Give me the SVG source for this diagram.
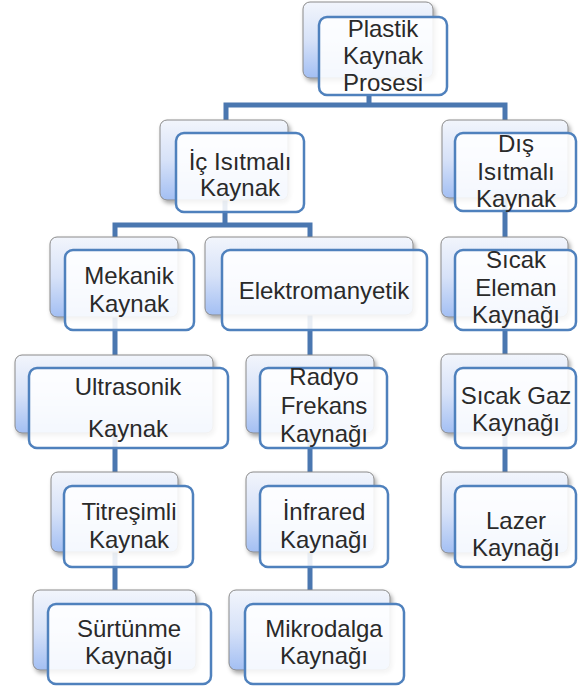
<svg xmlns="http://www.w3.org/2000/svg" width="578" height="691" viewBox="0 0 578 691">
<defs>
<linearGradient id="g" x1="0" y1="0" x2="0" y2="1">
<stop offset="0" stop-color="#f2f5fc"/>
<stop offset="0.5" stop-color="#d7e2f8"/>
<stop offset="1" stop-color="#a3bff3"/>
</linearGradient>
<filter id="sh" x="-10%" y="-10%" width="125%" height="130%">
<feDropShadow dx="2" dy="3" stdDeviation="2" flood-color="#000" flood-opacity="0.35"/>
</filter>
</defs>
<style>
.b{fill:url(#g);stroke:#8a8a8a;stroke-width:1;filter:url(#sh)}
.f{fill:#ffffff;fill-opacity:0.88;stroke:#4f81bd;stroke-width:2.5}
.t{font-family:"Liberation Sans",Arial,sans-serif;font-size:24px;fill:#2a2a2a;text-anchor:middle}
.c{fill:none;stroke:#4a77b0;stroke-width:5}
</style>
<rect width="578" height="691" fill="#ffffff"/>
<g id="connectors">
<path class="c" d="M369,95 V105 M226,120 V105 H505 V120"/>
<path class="c" d="M225,200 V225 M115,237 V225 H310 V237"/>
<path class="c" d="M115,317 V355 M115,433 V472 M115,552 V590"/>
<path class="c" d="M310,315 V355 M310,433 V472 M310,552 V590"/>
<path class="c" d="M505,198 V237 M505,317 V354 M505,433 V472"/>
</g>
<g id="n1"><rect class="b" x="303" y="2" width="130" height="76" rx="7"/><rect class="f" x="319" y="17" width="128" height="78" rx="8"/>
<text class="t" x="383" y="37">Plastik</text><text class="t" x="383" y="64">Kaynak</text><text class="t" x="383" y="91">Prosesi</text></g>
<g id="n2"><rect class="b" x="160" y="120" width="128" height="80" rx="7"/><rect class="f" x="176" y="133" width="128" height="79" rx="8"/>
<text class="t" x="240" y="170">İç Isıtmalı</text><text class="t" x="240" y="196">Kaynak</text></g>
<g id="n3"><rect class="b" x="442" y="120" width="126" height="78" rx="7"/><rect class="f" x="455" y="133" width="121" height="78" rx="8"/>
<text class="t" x="516" y="152">Dış</text><text class="t" x="516" y="180">Isıtmalı</text><text class="t" x="516" y="207">Kaynak</text></g>
<g id="n4"><rect class="b" x="50" y="237" width="128" height="80" rx="7"/><rect class="f" x="65" y="250" width="129" height="80" rx="8"/>
<text class="t" x="129" y="284">Mekanik</text><text class="t" x="129" y="312">Kaynak</text></g>
<g id="n5"><rect class="b" x="205" y="237" width="208" height="78" rx="7"/><rect class="f" x="222" y="250" width="205" height="80" rx="8"/>
<text class="t" x="324" y="299">Elektromanyetik</text></g>
<g id="n6"><rect class="b" x="441" y="237" width="127" height="80" rx="7"/><rect class="f" x="455" y="250" width="121" height="80" rx="8"/>
<text class="t" x="516" y="268">Sıcak</text><text class="t" x="516" y="296">Eleman</text><text class="t" x="516" y="323">Kaynağı</text></g>
<g id="n7"><rect class="b" x="15" y="355" width="198" height="78" rx="7"/><rect class="f" x="29" y="368" width="199" height="80" rx="8"/>
<text class="t" x="128" y="395">Ultrasonik</text><text class="t" x="128" y="437">Kaynak</text></g>
<g id="n8"><rect class="b" x="246" y="355" width="128" height="78" rx="7"/><rect class="f" x="260" y="368" width="127" height="80" rx="8"/>
<text class="t" x="324" y="385">Radyo</text><text class="t" x="324" y="414">Frekans</text><text class="t" x="324" y="442">Kaynağı</text></g>
<g id="n9"><rect class="b" x="441" y="354" width="127" height="79" rx="7"/><rect class="f" x="455" y="368" width="121" height="80" rx="8"/>
<text class="t" x="516" y="404">Sıcak Gaz</text><text class="t" x="516" y="431">Kaynağı</text></g>
<g id="n10"><rect class="b" x="51" y="472" width="127" height="80" rx="7"/><rect class="f" x="64" y="486" width="129" height="81" rx="8"/>
<text class="t" x="129" y="520">Titreşimli</text><text class="t" x="129" y="548">Kaynak</text></g>
<g id="n11"><rect class="b" x="246" y="472" width="128" height="80" rx="7"/><rect class="f" x="260" y="486" width="128" height="81" rx="8"/>
<text class="t" x="324" y="520">İnfrared</text><text class="t" x="324" y="548">Kaynağı</text></g>
<g id="n12"><rect class="b" x="441" y="472" width="127" height="81" rx="7"/><rect class="f" x="455" y="486" width="121" height="81" rx="8"/>
<text class="t" x="516" y="529">Lazer</text><text class="t" x="516" y="556">Kaynağı</text></g>
<g id="n13"><rect class="b" x="33" y="590" width="163" height="80" rx="7"/><rect class="f" x="48" y="604" width="163" height="80" rx="8"/>
<text class="t" x="129" y="637">Sürtünme</text><text class="t" x="129" y="664">Kaynağı</text></g>
<g id="n14"><rect class="b" x="229" y="590" width="161" height="80" rx="7"/><rect class="f" x="245" y="604" width="159" height="80" rx="8"/>
<text class="t" x="324" y="637">Mikrodalga</text><text class="t" x="324" y="664">Kaynağı</text></g>
</svg>
